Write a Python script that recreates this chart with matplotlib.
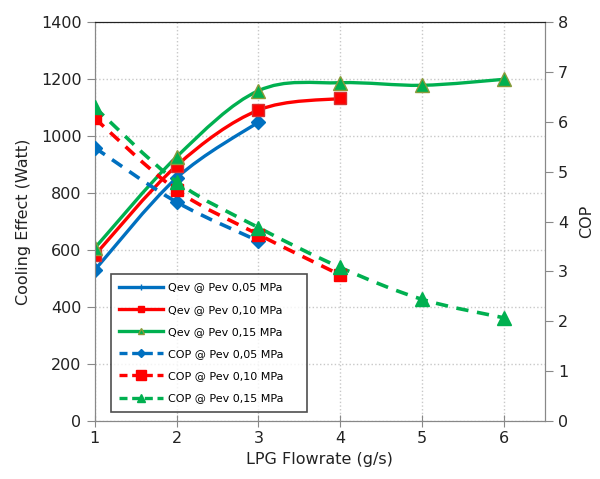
import matplotlib.pyplot as plt
from matplotlib.path import Path
from matplotlib.patches import PathPatch
from matplotlib.lines import Line2D

# Data
flowrate = [1, 2, 3, 4, 5, 6]

qev_005 = [530, 853, 1049]
qev_010 = [582, 896, 1091, 1132]
qev_015 = [607, 927, 1159, 1187, 1178, 1199]

cop_005 = [5.48, 4.39, 3.61]
cop_010 = [6.07, 4.63, 3.74, 2.93]
cop_015 = [6.29, 4.80, 3.88, 3.08, 2.44, 2.07]

labels = ['Qev @ Pev 0,05 MPa', 'Qev @ Pev 0,10 MPa', 'Qev @ Pev 0,15 MPa',
          'COP @ Pev 0,05 MPa', 'COP @ Pev 0,10 MPa', 'COP @ Pev 0,15 MPa']

BLUE = '#0070C0'
RED = '#FF0000'
GREEN = '#00B050'


def smoothPath(xs, ys):
    """Bezier path through the points, like Excel's smoothed line."""
    pts = list(zip(xs, ys))
    verts = [pts[0]]
    codes = [Path.MOVETO]
    for i in range(len(pts) - 1):
        p0 = pts[i - 1] if i > 0 else pts[i]
        p1 = pts[i]
        p2 = pts[i + 1]
        p3 = pts[i + 2] if i + 2 < len(pts) else pts[i + 1]
        c1 = (p1[0] + (p2[0] - p0[0]) / 6, p1[1] + (p2[1] - p0[1]) / 6)
        c2 = (p2[0] - (p3[0] - p1[0]) / 6, p2[1] - (p3[1] - p1[1]) / 6)
        verts += [c1, c2, p2]
        codes += [Path.CURVE4] * 3
    return Path(verts, codes)


def drawSeries(ax, ys, color, marker, msize, dashed, zorder, edge=None):
    xs = flowrate[:len(ys)]
    patch = PathPatch(smoothPath(xs, ys), fill=False, edgecolor=color,
                      linewidth=2.6 if dashed else 2.4, zorder=zorder,
                      capstyle='butt',
                      linestyle=(0, (3.4, 2.4)) if dashed else '-')
    ax.add_patch(patch)
    ax.plot(xs, ys, linestyle='none', marker=marker, markersize=msize,
            color=color, markeredgecolor=edge or color, zorder=zorder + 0.5)


fig, ax1 = plt.subplots(figsize=(6, 4.79), dpi=100)
plt.subplots_adjust(left=0.158, right=0.908, top=0.954, bottom=0.121)
ax2 = ax1.twinx()

drawSeries(ax1, qev_005, BLUE, 'D', 7, False, 3)
drawSeries(ax1, qev_010, RED, 's', 9, False, 3.1, '#d83030')
drawSeries(ax1, qev_015, GREEN, '^', 10, False, 3.2, '#8a9a3a')
drawSeries(ax2, cop_005, BLUE, 'D', 7, True, 3)
drawSeries(ax2, cop_010, RED, 's', 9, True, 3.1)
drawSeries(ax2, cop_015, GREEN, '^', 10, True, 3.2)

ax1.set_xlim(1, 6.5)
ax1.set_ylim(0, 1400)
ax2.set_ylim(0, 8)
ax1.set_xticks(flowrate)
ax1.set_yticks(range(0, 1401, 200))
ax2.set_yticks(range(0, 9))

ax1.grid(True, color='#c8c8c8', linestyle=':', linewidth=1)
ax1.set_axisbelow(True)

ax1.set_xlabel('LPG Flowrate (g/s)', fontsize=11.5, color='#222222')
ax1.set_ylabel('Cooling Effect (Watt)', fontsize=11.5, color='#222222', labelpad=7)
ax2.set_ylabel('COP', fontsize=11.5, color='#222222', labelpad=8)

for ax in (ax1, ax2):
    ax.tick_params(labelsize=11.5, colors='#888888', labelcolor='#222222', length=6)
    for side in ('left', 'right', 'bottom'):
        ax.spines[side].set_color('#888888')
    ax.spines['top'].set_color('#222222')
ax1.tick_params(axis='x', direction='inout', length=8)

handles = [
    Line2D([], [], color=BLUE, lw=2.4, marker='+', markersize=5),
    Line2D([], [], color=RED, lw=2.4, marker='s', markersize=5),
    Line2D([], [], color=GREEN, lw=2.4, marker='^', markersize=5, markeredgecolor='#8a9a3a'),
    Line2D([], [], color=BLUE, lw=2.4, ls=(0, (2.4, 1.4)), marker='D', markersize=4),
    Line2D([], [], color=RED, lw=2.4, ls=(0, (2.4, 1.4)), marker='s', markersize=7),
    Line2D([], [], color=GREEN, lw=2.4, ls=(0, (2.4, 1.4)), marker='^', markersize=6),
]
leg = ax2.legend(handles, labels, loc='lower left',
                 bbox_to_anchor=(0.036, 0.023, 0.436, 0.3), mode='expand',
                 borderaxespad=0, fontsize=8, frameon=True, fancybox=False,
                 edgecolor='#222222', handlelength=3.9, labelspacing=1.1,
                 borderpad=0.75, handletextpad=0.45)
leg.get_frame().set_linewidth(1.2)
leg.set_zorder(10)

plt.savefig('out.png', dpi=100)
